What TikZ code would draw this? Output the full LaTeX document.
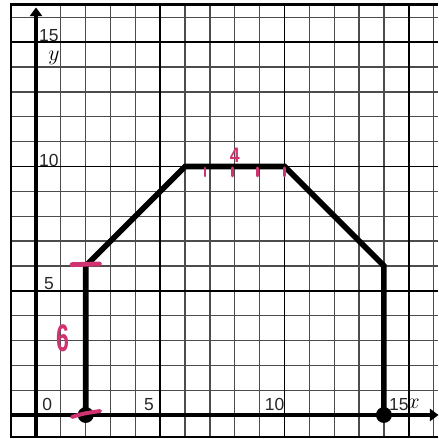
\documentclass[tikz,border=0pt]{standalone}
\usepackage{fontspec}
\setsansfont{Liberation Sans}
\usetikzlibrary{arrows.meta}

\definecolor{markpink}{RGB}{208,52,112}

\begin{document}
\begin{tikzpicture}[
    minor/.style={black!70, line width=1.4pt},
    major/.style={black, line width=2.1pt},
    axis/.style={black, line width=5pt},
    outline/.style={black, line width=6.5pt, line join=miter},
    dot/.style={circle, fill=black, inner sep=0pt, minimum size=0.64cm},
    tick label/.style={font=\sffamily\fontsize{20}{22}\selectfont, inner sep=0pt, text=black!85},
    var label/.style={font=\fontsize{24}{26}\selectfont, inner sep=0pt},
    pen/.style={markpink, line width=3.2pt, line cap=round},
    hand/.style={text=markpink, font=\sffamily, inner sep=0pt}]
  \useasboundingbox (-1.449,-0.966) rectangle (16.177,16.70);
  % ------------------------------------------------------------------ graph paper
  \foreach \k in {1,...,16} {
    \draw[minor] (\k,-0.87) -- (\k,16.5);
    \draw[minor] (-1,\k) -- (16.18,\k);
  }
  \foreach \k in {5,10,15} {
    \draw[major] (\k,-0.87) -- (\k,16.5);
    \draw[major] (-1,\k) -- (16.18,\k);
  }
  \draw[black, line width=2.4pt] (16.18,16.52) -- (-1,16.52) -- (-1,-0.87) -- (16.18,-0.87);
  % ------------------------------------------------------------------ axes
  \coordinate (xfrom) at (-1,0);
  \coordinate (xto) at (16.2,0);
  \coordinate (yfrom) at (0,-0.87);
  \coordinate (yto) at (0,16.4);
  \draw[axis, -{Triangle[length=10pt, width=14pt]}] (xfrom) -- (xto);
  \draw[axis, -{Triangle[length=10pt, width=14pt]}] (yfrom) -- (yto);
  \foreach \v/\px in {0/0.45, 5/4.55, 10/9.6, 15/14.6}
    \node[tick label] (xtick\v) at (\px,0.42) {\v};
  \foreach \v/\py in {5/5.27, 10/10.26, 15/15.25}
    \node[tick label] (ytick\v) at (0.52,\py) {\v};
  \node[var label] (xname) at (15.2,0.45) {$x$};
  \node[var label] (yname) at (0.72,14.35) {$y$};
  % ------------------------------------------------------------------ the figure
  \coordinate (a) at (2,0);
  \coordinate (b) at (2,6);
  \coordinate (c) at (6,10);
  \coordinate (d) at (10,10);
  \coordinate (e) at (14,6);
  \coordinate (f) at (14,0);
  \draw[outline] (a) -- (b) -- (c) -- (d) -- (e) -- (f);
  \node[dot] (dota) at (a) {};
  \node[dot] (dotf) at (f) {};
  % ------------------------------------------------------------------ pink pen
  \draw[pen, line width=5.5pt] (1.45,6.05) -- (2.55,6.08);
  \draw[pen, line width=4.5pt] (1.45,-0.08) .. controls (1.9,0.06) .. (2.58,0.16);
  \foreach \t in {6.8,7.9,8.9,10}
    \draw[pen, line width=3.4pt] (\t,9.94) -- (\t,9.62);
  \node[hand, font=\sffamily\bfseries\fontsize{44}{48}\selectfont] (six) at (1.09,3.1) {\scalebox{0.6}[1]{6}};
  \node[hand, font=\sffamily\bfseries\fontsize{24}{26}\selectfont] (four) at (8.0,10.46) {\scalebox{0.85}[1]{4}};
\end{tikzpicture}
\end{document}
